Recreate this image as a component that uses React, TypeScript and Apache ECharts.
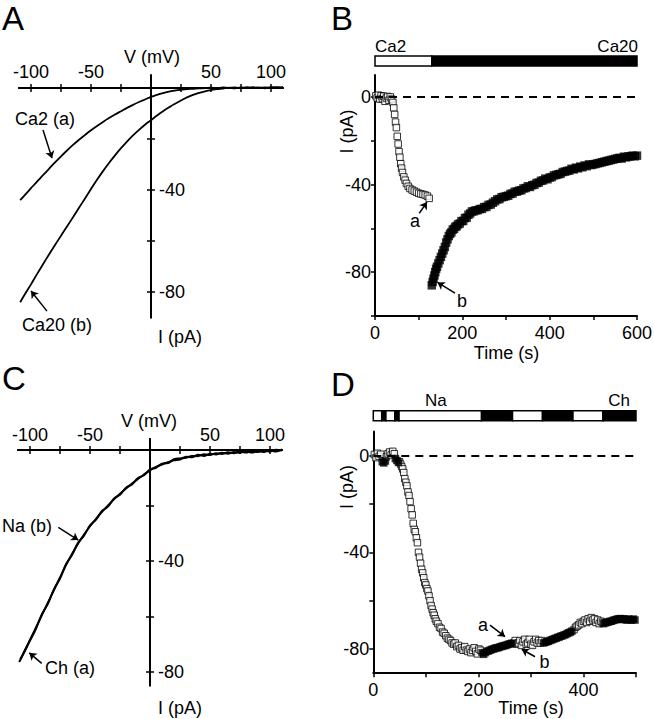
import React, { useEffect, useRef } from "react";
import * as echarts from "echarts";

const FONT = '"Liberation Sans", Arial, Helvetica, sans-serif';

// ---------- Panels A & C : I-V curves ----------
const ivTicksV = [-100, -75, -50, -25, 25, 50, 75, 100];
const ivLabelsV = [-100, -50, 50, 100];
const ivTicksI = [-20, -40, -60, -80];
const ivLabelsI = [-40, -80];

const ca2IV = [
  [-109, -44], [-105, -41.9], [-100, -39.3], [-95, -36.7], [-90, -34.2], [-85, -31.7], [-80, -29.2],
  [-75, -26.8], [-70, -24.5], [-65, -22.3], [-60, -20.3], [-55, -18.4], [-50, -16.6], [-45, -14.9],
  [-40, -13.3], [-35, -11.8], [-30, -10.4], [-25, -9.1], [-20, -7.8], [-15, -6.6], [-10, -5.5],
  [-5, -4.5], [0, -3.5], [5, -2.7], [10, -2], [15, -1.4], [20, -1], [25, -0.7], [30, -0.45],
  [35, -0.3], [40, -0.15], [45, 0], [50, 0.1], [55, -0.1], [60, 0.2], [65, 0], [70, 0.2],
  [75, -0.1], [80, 0.3], [85, 0], [90, 0.2], [95, -0.1], [100, 0.3], [105, 0.1], [110, 0.3],
];
const ca20IV = [
  [-109, -84], [-105, -80.8], [-100, -77], [-95, -73], [-90, -69.1], [-85, -65.3], [-80, -61.6],
  [-75, -57.9], [-70, -54.3], [-65, -50.7], [-60, -47], [-55, -43.3], [-50, -39.6], [-45, -36],
  [-40, -32.6], [-35, -29.4], [-30, -26.4], [-25, -23.6], [-20, -21], [-15, -18.6], [-10, -16.4],
  [-5, -14.4], [0, -12.6], [5, -10.8], [10, -9.1], [16, -7.3], [20, -6.2], [25, -4.9], [30, -3.7],
  [35, -2.7], [40, -1.9], [45, -1.3], [50, -0.8], [55, -0.4], [60, -0.2], [65, 0.1], [70, -0.1],
  [75, 0.2], [80, 0], [85, 0.3], [90, 0], [95, 0.2], [100, 0.1], [105, 0.3], [110, 0.1],
];
const naIV = [
  [-108, -75.5], [-104, -72], [-100, -68.5], [-95, -64], [-90, -59.5], [-85, -55], [-80, -50.5],
  [-75, -46], [-70, -41.5], [-65, -37.5], [-60, -33.8], [-55, -30.5], [-50, -27.5], [-45, -24.8],
  [-40, -22.3], [-35, -20], [-30, -17.8], [-25, -15.8], [-20, -13.9], [-15, -12.1], [-10, -10.4],
  [-5, -8.8], [0, -7.3], [5, -6.1], [10, -5.2], [15, -4.4], [20, -3.7], [25, -3.4], [30, -2.4],
  [35, -2.6], [40, -1.7], [45, -2.1], [50, -1.3], [55, -1.6], [60, -1.0], [65, -1.3], [70, -0.7],
  [75, -1.0], [80, -0.5], [85, -0.9], [90, -0.3], [95, -0.7], [100, -0.1], [105, -0.5], [110, 0.2],
];
const chIV = [
  [-109, -76.5], [-105, -73.2], [-100, -68.8], [-95, -64.5], [-90, -59.2], [-85, -55.4], [-80, -50.2],
  [-75, -46.4], [-70, -41.2], [-65, -37.9], [-60, -33.5], [-55, -30.9], [-50, -27.2], [-45, -25.1],
  [-40, -22], [-35, -20.4], [-30, -17.5], [-25, -16.1], [-20, -13.6], [-15, -12.4], [-10, -10.1],
  [-5, -9.1], [0, -7.0], [5, -6.4], [10, -4.9], [15, -4.7], [20, -3.3], [25, -3.0], [30, -2.8],
  [35, -2.1], [40, -2.2], [45, -1.5], [50, -1.8], [55, -1.1], [60, -1.4], [65, -0.8], [70, -1.1],
  [75, -0.5], [80, -0.9], [85, -0.3], [90, -0.7], [95, -0.1], [100, -0.5], [105, 0.1], [110, -0.2],
];

// ---------- Panel B : time course Ca2 / Ca20 ----------
const timeTicksB = [0, 100, 200, 300, 400, 500, 600];
const timeLabelsB = [0, 200, 400, 600];
const currTicksB = [0, -20, -40, -60, -80, -100];
const currLabels = [0, -40, -80];
const solutionB = [
  [0, 130, 0],
  [130, 600, 1],
];
const ca2Time = [
  [2, 0.5], [5, -0.5], [8, 0.8], [11, -1], [14, 0.5], [17, -0.8], [20, 0.3], [23, -2], [26, -0.5],
  [29, 0.2], [32, -1.5], [35, 0], [38, -1], [41, -2.5], [43, -5], [45, -8], [47, -11.5], [49, -14],
  [51, -18], [53, -21.5], [55, -25], [57, -27.5], [59, -30.5], [61, -32.5], [63, -34.5], [66, -36.5],
  [69, -38], [72, -39.5], [76, -40.8], [80, -41.8], [85, -42.5], [90, -43], [95, -43.5], [100, -44],
  [105, -44.3], [110, -44.5], [115, -44.8], [120, -45.3], [124, -46.3],
];
const ca20Time = [
  [130, -86], [132, -84.5], [134, -83], [136, -81.5], [138, -80], [140, -78.5], [142, -77.5],
  [145, -76], [148, -74.5], [151, -73], [154, -71.5], [157, -70], [160, -68.5], [163, -66.5],
  [166, -65], [169, -63.5], [172, -62.5], [175, -61.8], [178, -60.6], [181, -60.2], [184, -59.3],
  [187, -59], [190, -58.2], [194, -57.8], [198, -56.7], [202, -56.6], [206, -55.3], [210, -55.1],
  [214, -53.8], [218, -53.2], [222, -52.3], [226, -52.2], [230, -51.8], [235, -51.7], [240, -51.2],
  [245, -51.1], [250, -50.3], [255, -50.2], [260, -49.3], [265, -49.1], [270, -48.3], [275, -47.6],
  [280, -46.8], [285, -46.6], [290, -45.8], [295, -45.6], [300, -45.3], [305, -45.1], [310, -44.3],
  [315, -44.1], [320, -43.3], [325, -43.2], [330, -42.8], [335, -42.6], [340, -41.8], [345, -41.6],
  [350, -40.8], [355, -41.1], [360, -40.3], [365, -40.1], [370, -39.3], [375, -39.1], [380, -38.3],
  [385, -38.1], [390, -37.3], [395, -37.6], [400, -36.8], [405, -36.6], [410, -35.8], [415, -35.6],
  [420, -35.3], [425, -35.1], [430, -34.3], [435, -34.1], [440, -33.8], [445, -33.6], [450, -32.8],
  [455, -33.1], [460, -32.3], [465, -32.6], [470, -31.8], [475, -32.1], [480, -31.3], [485, -31.6],
  [490, -30.8], [495, -31.1], [500, -30.8], [505, -30.6], [510, -30.3], [515, -30.1], [520, -29.8],
  [525, -29.6], [530, -29.3], [535, -29.1], [540, -28.8], [545, -28.6], [550, -28.3], [555, -28.1],
  [560, -27.8], [565, -28.1], [570, -27.3], [575, -27.6], [580, -27.2], [585, -27.1], [590, -26.8],
  [595, -27.1], [600, -26.8],
];

// ---------- Panel D : time course Na / Ch ----------
const timeTicksD = [0, 100, 200, 300, 400, 500];
const timeLabelsD = [0, 200, 400];
const currTicksD = [0, -20, -40, -60, -80];
const solutionD = [
  [0, 16, 0], [16, 24, 1], [24, 41, 0], [41, 49, 1], [49, 206, 0],
  [206, 265, 1], [265, 322, 0], [322, 380, 1], [380, 437, 0], [437, 500, 1],
];
const naTime = [
  [2, 0.5], [5, -0.8], [8, 1], [11, -0.3], [14, 0.6],
  [25, -0.5], [28, 0.8], [31, 1.5], [34, 0.3], [37, 1.8], [40, 0.8],
  [50, -2.5], [52, -3.5], [54, -4.5], [56, -5.5], [58, -7], [60, -9.5], [62, -11], [64, -12.5],
  [66, -15], [68, -16.5], [70, -19], [72, -22], [74, -24.5], [76, -28], [78, -30.5], [80, -31.5],
  [82, -34], [84, -36], [86, -40], [88, -42], [90, -44.5], [92, -47], [94, -48.5], [96, -50.5],
  [98, -52.5], [100, -53.5], [102, -55], [104, -56], [106, -58], [108, -60], [110, -62], [112, -63.5],
  [114, -65], [116, -66], [118, -67.5], [120, -68.5], [123, -69.5], [126, -71], [129, -71.5],
  [132, -73], [135, -73.5], [138, -74.5], [141, -75.5], [144, -76], [147, -76.5], [150, -77.5],
  [153, -78], [156, -77.5], [159, -79], [162, -78.5], [165, -80], [168, -79.5], [171, -80.5],
  [174, -79], [177, -80.5], [180, -81], [183, -80], [186, -81.5], [189, -80.5], [192, -79.5],
  [195, -81], [198, -82], [201, -80], [204, -80.5],
  [267, -77.5], [270, -76.5], [273, -78], [276, -77.5], [279, -76.5], [282, -78.5], [285, -77],
  [288, -76], [291, -78], [294, -77.5], [297, -76], [300, -78], [303, -78.5], [306, -77], [309, -76],
  [312, -77.5], [315, -76.5], [318, -77.5], [321, -76.5],
  [382, -72], [385, -71], [388, -70.5], [391, -70], [394, -69], [397, -69.5], [400, -68.5],
  [403, -68], [406, -69], [409, -67.5], [412, -68.5], [415, -67], [418, -68], [421, -67.5],
  [424, -69], [427, -68], [430, -69.5], [433, -68.5], [436, -69],
];
const chTime = [
  [17, -2.5], [20, -3], [23, -2.2],
  [42, -1.2], [45, -2], [48, -2.8],
  [207, -81.5], [210, -82.2], [213, -81.5], [216, -81], [219, -80.8], [222, -80.5], [225, -80.2],
  [228, -80], [231, -79.8], [234, -79.5], [237, -79.5], [240, -79.2], [243, -79], [246, -78.8],
  [249, -78.6], [252, -78.5], [255, -78.2], [258, -78], [261, -77.8], [264, -77.6],
  [324, -77.5], [327, -77.2], [330, -77], [333, -76.8], [336, -76.5], [339, -76.2], [342, -76],
  [345, -75.7], [348, -75.5], [351, -75.2], [354, -75], [357, -74.7], [360, -74.5], [363, -74.2],
  [366, -74], [369, -73.6], [372, -73.3], [375, -73], [378, -72.6],
  [438, -69.5], [441, -69.2], [444, -69], [447, -68.8], [450, -68.6], [453, -68.5], [456, -68.2],
  [459, -68], [462, -67.8], [465, -67.6], [468, -67.5], [471, -67.4], [474, -67.8], [477, -67.5],
  [480, -67.8], [483, -68], [486, -67.6], [489, -67.9], [492, -68], [495, -67.6], [498, -68],
];

// ---------- styling helpers ----------
const axisLineStyle = { color: "#000", width: 2 };
const tickStyle = { color: "#000", width: 1.5 };
const labelStyle = { color: "#000", fontSize: 18, fontFamily: FONT };

// With axisLine.onZero, ECharts keeps labels at the grid edge; the (negative)
// margins below bring them back next to the zero-crossing axis line.
function ivXAxis(grid: number, main: boolean, margin: number) {
  return {
    gridIndex: grid,
    type: "value",
    min: -110,
    max: 110,
    position: main ? "top" : "bottom",
    axisLine: { show: true, onZero: true, lineStyle: axisLineStyle },
    axisTick: { show: true, length: 4, lineStyle: tickStyle, customValues: ivTicksV },
    axisLabel: main
      ? { show: true, ...labelStyle, margin, customValues: ivLabelsV }
      : { show: false },
    splitLine: { show: false },
  };
}
function ivYAxis(grid: number, main: boolean, min: number, max: number, margin: number) {
  return {
    gridIndex: grid,
    type: "value",
    min,
    max,
    position: main ? "right" : "left",
    axisLine: { show: true, onZero: true, lineStyle: axisLineStyle },
    axisTick: { show: true, length: 4, lineStyle: tickStyle, customValues: ivTicksI },
    axisLabel: main
      ? { show: true, ...labelStyle, margin, customValues: ivLabelsI }
      : { show: false },
    splitLine: { show: false },
  };
}
function hiddenAxis(grid: number, min: number, max: number) {
  return { gridIndex: grid, type: "value", min, max, show: false, splitLine: { show: false } };
}
function timeXAxis(grid: number, max: number, ticks: number[], labels: number[]) {
  return {
    gridIndex: grid,
    type: "value",
    min: 0,
    max,
    position: "bottom",
    axisLine: { show: true, onZero: false, lineStyle: axisLineStyle },
    axisTick: { show: true, length: 4, lineStyle: tickStyle, customValues: ticks },
    axisLabel: { show: true, ...labelStyle, margin: 8, customValues: labels },
    splitLine: { show: false },
  };
}
function currYAxis(grid: number, min: number, ticks: number[]) {
  return {
    gridIndex: grid,
    type: "value",
    min,
    max: 10,
    position: "left",
    axisLine: { show: true, onZero: false, lineStyle: axisLineStyle },
    axisTick: { show: true, length: 4, lineStyle: tickStyle, customValues: ticks },
    axisLabel: { show: true, ...labelStyle, margin: 4, customValues: currLabels },
    splitLine: { show: false },
  };
}

const renderSegment = (_params: any, api: any) => {
  const p0 = api.coord([api.value(0), 0]);
  const p1 = api.coord([api.value(1), 1]);
  return {
    type: "rect",
    shape: { x: p0[0], y: p1[1], width: p1[0] - p0[0], height: p0[1] - p1[1] },
    style: { fill: api.value(2) ? "#000" : "#fff", stroke: "#000", lineWidth: 1.5 },
  };
};

const arrowMark = (pairs: number[][][]) => ({
  silent: true,
  symbol: ["none", "arrow"],
  symbolSize: 7,
  label: { show: false },
  lineStyle: { color: "#000", width: 1.5, type: "solid" },
  data: pairs.map((p) => [{ coord: p[0] }, { coord: p[1] }]),
});

function txt(text: string, x: number, y: number, o: any = {}) {
  return {
    type: "text",
    x,
    y,
    rotation: o.rot || 0,
    silent: true,
    style: {
      text,
      fill: "#000",
      fontSize: o.size || 18,
      fontFamily: FONT,
      align: o.align || "left",
      verticalAlign: "middle",
    },
  };
}

const option: any = {
  animation: false,
  backgroundColor: "#fff",
  textStyle: { fontFamily: FONT },
  grid: [
    { left: 19, top: 75.25, width: 264, height: 242.25, outerBoundsMode: "none" },
    { left: 375, top: 56, width: 262, height: 10, outerBoundsMode: "none" },
    { left: 375, top: 75, width: 262, height: 241, outerBoundsMode: "none" },
    { left: 18, top: 439, width: 264, height: 246.5, outerBoundsMode: "none" },
    { left: 373.3, top: 410.7, width: 262.7, height: 10, outerBoundsMode: "none" },
    { left: 373.3, top: 431.5, width: 262.7, height: 241.7, outerBoundsMode: "none" },
  ],
  xAxis: [
    ivXAxis(0, true, -5.75),
    ivXAxis(0, false, 0),
    hiddenAxis(1, 0, 600),
    timeXAxis(2, 600, timeTicksB, timeLabelsB),
    ivXAxis(3, true, -5.1),
    ivXAxis(3, false, 0),
    hiddenAxis(4, 0, 500),
    timeXAxis(5, 500, timeTicksD, timeLabelsD),
  ],
  yAxis: [
    ivYAxis(0, true, -90, 5, -124),
    ivYAxis(0, false, -90, 5, 0),
    hiddenAxis(1, 0, 1),
    currYAxis(2, -100, currTicksB),
    ivYAxis(3, true, -85, 4, -124),
    ivYAxis(3, false, -85, 4, 0),
    hiddenAxis(4, 0, 1),
    currYAxis(5, -90, currTicksD),
  ],
  series: [
    {
      name: "Ca2 (a)",
      type: "line",
      xAxisIndex: 0,
      yAxisIndex: 0,
      data: ca2IV,
      smooth: 0.4,
      symbol: "none",
      lineStyle: { color: "#000", width: 1.8 },
      markLine: arrowMark([
        [[-90, -16.5], [-82.5, -27.5]],
        [[-86.7, -87.5], [-100, -79.6]],
      ]),
    },
    {
      name: "Ca20 (b)",
      type: "line",
      xAxisIndex: 0,
      yAxisIndex: 0,
      data: ca20IV,
      smooth: 0.4,
      symbol: "none",
      lineStyle: { color: "#000", width: 1.8 },
    },
    {
      name: "solution B",
      type: "custom",
      xAxisIndex: 2,
      yAxisIndex: 2,
      encode: { x: [0, 1], y: 2 },
      data: solutionB,
      renderItem: renderSegment,
    },
    {
      name: "Ca2",
      type: "scatter",
      xAxisIndex: 3,
      yAxisIndex: 3,
      data: ca2Time,
      symbol: "rect",
      symbolSize: 6.5,
      itemStyle: { color: "#fff", borderColor: "#000", borderWidth: 1 },
      markLine: arrowMark([
        [[101.4, -53.1], [119.1, -48.0]],
        [[183.2, -89.6], [143.1, -84.7]],
      ]),
    },
    {
      name: "Ca20",
      type: "scatter",
      xAxisIndex: 3,
      yAxisIndex: 3,
      data: ca20Time,
      symbol: "rect",
      symbolSize: 8.5,
      itemStyle: { color: "#000" },
      markLine: {
        silent: true,
        symbol: "none",
        label: { show: false },
        lineStyle: { color: "#000", width: 2, type: [8, 6] },
        data: [{ yAxis: 0 }],
      },
    },
    {
      name: "Na (b)",
      type: "line",
      xAxisIndex: 4,
      yAxisIndex: 4,
      data: naIV,
      smooth: 0.3,
      symbol: "none",
      lineStyle: { color: "#000", width: 2 },
      markLine: arrowMark([
        [[-76.4, -27.9], [-59.75, -32.5]],
        [[-90.25, -77.0], [-100.6, -73.2]],
      ]),
    },
    {
      name: "Ch (a)",
      type: "line",
      xAxisIndex: 4,
      yAxisIndex: 4,
      data: chIV,
      smooth: 0.3,
      symbol: "none",
      lineStyle: { color: "#000", width: 2 },
    },
    {
      name: "solution D",
      type: "custom",
      xAxisIndex: 6,
      yAxisIndex: 6,
      encode: { x: [0, 1], y: 2 },
      data: solutionD,
      renderItem: renderSegment,
    },
    {
      name: "Na",
      type: "scatter",
      xAxisIndex: 7,
      yAxisIndex: 7,
      data: naTime,
      symbol: "rect",
      symbolSize: 6.5,
      itemStyle: { color: "#fff", borderColor: "#000", borderWidth: 1 },
      markLine: arrowMark([
        [[222.1, -70.1], [250.7, -74.9]],
        [[307.8, -83.2], [282.5, -80.1]],
      ]),
    },
    {
      name: "Ch",
      type: "scatter",
      xAxisIndex: 7,
      yAxisIndex: 7,
      data: chTime,
      symbol: "rect",
      symbolSize: 7.5,
      itemStyle: { color: "#000" },
      markLine: {
        silent: true,
        symbol: "none",
        label: { show: false },
        lineStyle: { color: "#000", width: 2, type: [8, 6] },
        data: [{ yAxis: 0 }],
      },
    },
  ],
  graphic: [
    // Panel A
    txt("A", 2, 18, { size: 33 }),
    txt("V (mV)", 152, 57, { align: "center" }),
    txt("I (pA)", 180, 337, { align: "center" }),
    txt("Ca2 (a)", 15, 118.5),
    txt("Ca20 (b)", 22, 325),
    // Panel B
    txt("B", 331, 18, { size: 33 }),
    txt("Ca2", 375, 46.5, { size: 17 }),
    txt("Ca20", 638, 46.5, { size: 17, align: "right" }),
    txt("I (pA)", 346.5, 131.5, { align: "center", rot: Math.PI / 2 }),
    txt("Time (s)", 506.5, 353, { align: "center" }),
    txt("a", 415, 221, { align: "center" }),
    txt("b", 462, 300.5, { align: "center" }),
    // Panel C
    txt("C", 2, 378.5, { size: 33 }),
    txt("V (mV)", 149, 420.7, { align: "center" }),
    txt("I (pA)", 180, 707.5, { align: "center" }),
    txt("Na (b)", 2, 526),
    txt("Ch (a)", 45, 667.5),
    // Panel D
    txt("D", 331, 384, { size: 33 }),
    txt("Na", 425, 400.5, { size: 17 }),
    txt("Ch", 630, 400.5, { size: 17, align: "right" }),
    txt("I (pA)", 346.5, 487, { align: "center", rot: Math.PI / 2 }),
    txt("Time (s)", 531, 707.5, { align: "center" }),
    txt("a", 483, 625, { align: "center" }),
    txt("b", 544.5, 661.5, { align: "center" }),
  ],
};

export default function App() {
  const ref = useRef<HTMLDivElement>(null);
  useEffect(() => {
    document.body.style.margin = "0";
    if (!ref.current) return;
    const chart = echarts.init(ref.current, null, { renderer: "svg", width: 654, height: 719 });
    chart.setOption(option);
    return () => chart.dispose();
  }, []);
  return <div ref={ref} style={{ width: 654, height: 719 }} />;
}
